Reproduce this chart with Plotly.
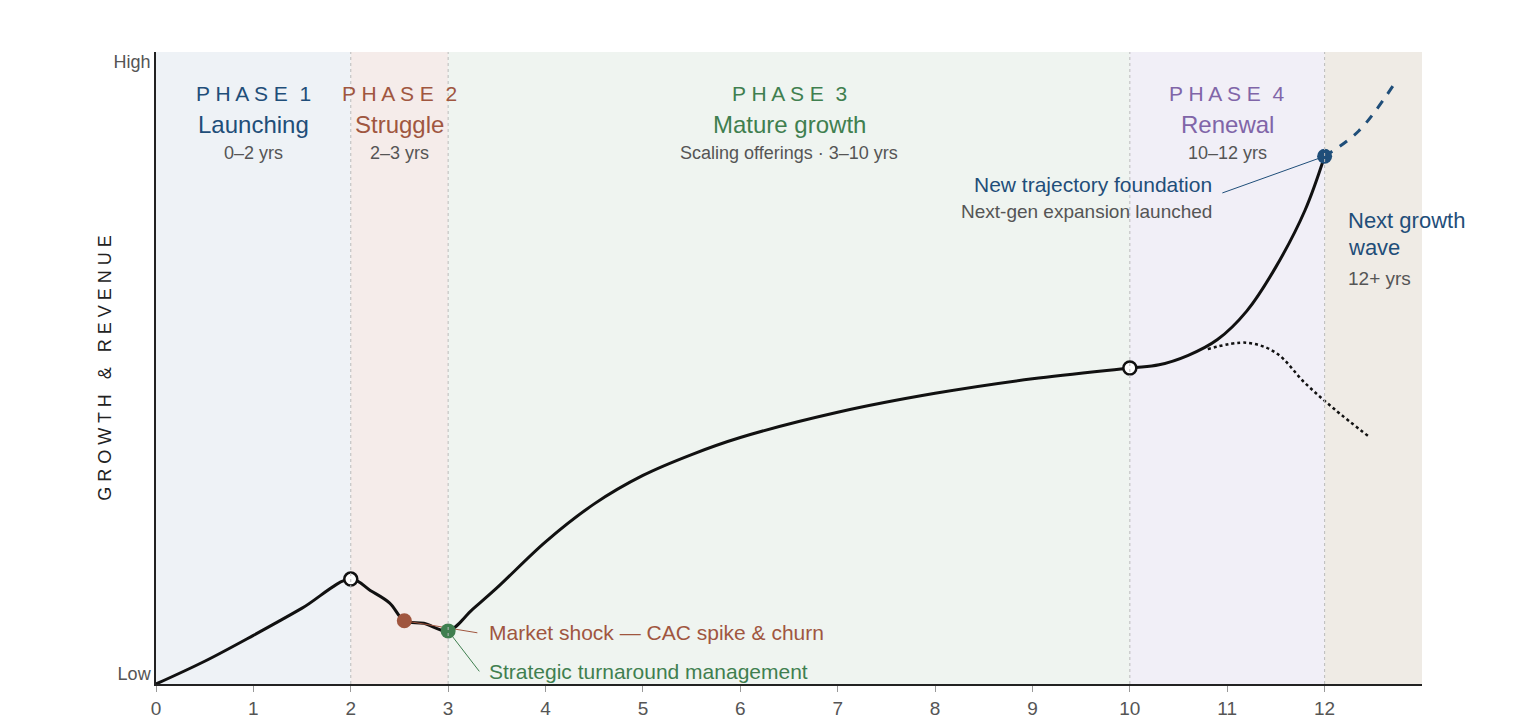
import plotly.graph_objects as go

# main curve
main_x = [0, 0.5, 1, 1.5, 2, 2.2, 2.4, 2.55, 2.75, 3, 3.25, 3.5, 4, 4.5, 5, 5.5, 6, 7, 8, 9, 10,
          10.3, 10.6, 10.9, 11.2, 11.5, 11.8, 12]
main_y = [0, 3.6, 7.7, 12, 16.6, 14.8, 12.8, 10, 9.6, 8.4, 11.8, 15.2, 22.5, 28.5, 33, 36.3, 39, 43, 46, 48.3, 50,
          50.5, 52, 54.5, 59, 66, 75, 83.5]
up_x = [12, 12.35, 12.7]
up_y = [83.5, 87.5, 94.6]
down_x = [10.8, 11.2, 11.5, 11.8, 12.1, 12.45]
down_y = [53, 54, 52.4, 47.6, 43.5, 39.2]

phases = [(0, 2, "#eef2f6"), (2, 3, "#f5ecea"), (3, 10, "#eff4f0"), (10, 12, "#f1eff7"), (12, 13, "#efebe5")]
dividers = [2, 3, 10, 12]

BLUE, RED, GREEN, PURPLE, GREY = "#1f4e79", "#a0563f", "#3f7f4f", "#8065a8", "#555555"
FONT = "Liberation Sans, Arial"

fig = go.Figure()
for x0, x1, c in phases:
    fig.add_shape(type="rect", x0=x0, x1=x1, y0=0, y1=100, fillcolor=c, line_width=0, layer="below")
for d in dividers:
    fig.add_shape(type="line", x0=d, x1=d, y0=0, y1=100, line=dict(color="#bbbbbb", width=1, dash="dot"))

fig.add_trace(go.Scatter(x=main_x, y=main_y, mode="lines", line=dict(color="#111", width=3, shape="spline", smoothing=1)))
fig.add_trace(go.Scatter(x=up_x, y=up_y, mode="lines", line=dict(color=BLUE, width=3, dash="dash", shape="spline")))
fig.add_trace(go.Scatter(x=down_x, y=down_y, mode="lines", line=dict(color="#111", width=2.5, dash="dot", shape="spline")))

# leader lines
fig.add_trace(go.Scatter(x=[2.55, 3.3], y=[10, 8.1], mode="lines", line=dict(color=RED, width=1)))
fig.add_trace(go.Scatter(x=[3, 3.32], y=[8.4, 2], mode="lines", line=dict(color=GREEN, width=1)))
fig.add_trace(go.Scatter(x=[12, 10.95], y=[83.5, 77.7], mode="lines", line=dict(color=BLUE, width=1)))

fig.add_trace(go.Scatter(x=[2, 10], y=[16.6, 50], mode="markers",
                         marker=dict(size=13, color="white", line=dict(color="#111", width=2.5))))
fig.add_trace(go.Scatter(x=[2.55, 3, 12], y=[10, 8.4, 83.5], mode="markers",
                         marker=dict(size=15, color=[RED, GREEN, BLUE])))

ann = []
def txt(x, y, t, color, size, xanchor="center"):
    ann.append(dict(x=x, y=y, text=t, showarrow=False, xanchor=xanchor, yanchor="middle",
                    font=dict(family=FONT, size=size, color=color)))

for cx, num, name, yrs, col in [(1, 1, "Launching", "0–2 yrs", BLUE), (2.5, 2, "Struggle", "2–3 yrs", RED),
                                 (6.5, 3, "Mature growth", "Scaling offerings · 3–10 yrs", GREEN),
                                 (11, 4, "Renewal", "10–12 yrs", PURPLE)]:
    txt(cx, 93.4, " ".join("PHASE") + "  " + str(num), col, 21)
    txt(cx, 88.6, name, col, 24)
    txt(cx, 84, yrs, GREY, 18)

txt(3.4, 8.1, "Market shock — CAC spike & churn", RED, 21, "left")
txt(3.4, 2, "Strategic turnaround management", GREEN, 21, "left")
txt(10.86, 79.1, "New trajectory foundation", BLUE, 21, "right")
txt(10.86, 74.7, "Next-gen expansion launched", GREY, 19, "right")
txt(12.22, 73.3, "Next growth", BLUE, 22, "left")
txt(12.22, 69, "wave", BLUE, 22, "left")
txt(12.22, 64.2, "12+ yrs", GREY, 19, "left")
ann.append(dict(xref="paper", yref="paper", x=-0.05, y=0.5, text=" ".join("GROWTH & REVENUE"), textangle=-90,
                showarrow=False, font=dict(family=FONT, size=18, color="#222")))

fig.update_layout(width=1517, height=720, showlegend=False, plot_bgcolor="white", paper_bgcolor="white",
                  margin=dict(l=148, r=103, t=44, b=44, autoexpand=False), annotations=ann,
                  font=dict(family=FONT))
fig.update_xaxes(range=[0, 13], tickvals=list(range(13)), showgrid=False, zeroline=False, showline=True,
                 linecolor="#222", linewidth=1.5, ticks="outside", tickcolor="#999", ticklen=6,
                 tickfont=dict(size=19, color=GREY), automargin=False)
fig.update_yaxes(range=[0, 100], tickvals=[1.6, 98.4], ticktext=["Low", "High"], showgrid=False, zeroline=False,
                 showline=True, linecolor="#222", linewidth=1.5, tickfont=dict(size=18, color=GREY),
                 automargin=False)
fig.write_html("out.html")
